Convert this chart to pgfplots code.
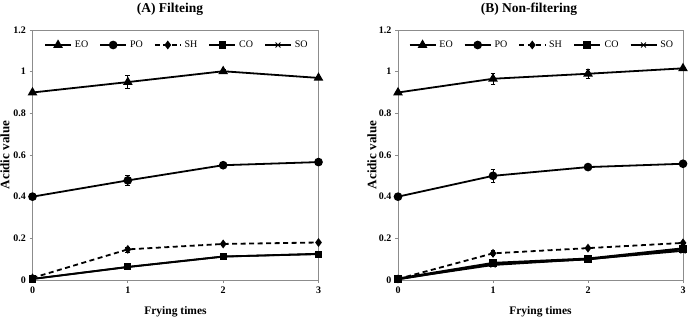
\documentclass[border=0pt]{standalone}
\usepackage{fontspec}
\setmainfont{Liberation Serif}
\usepackage{pgfplots}
\pgfplotsset{compat=1.18}

\definecolor{frame}{gray}{0.55}

\tikzset{
  ttl/.style={font=\bfseries\fontsize{13.5}{15}\selectfont},
  lbl/.style={font=\bfseries\fontsize{11.5}{13}\selectfont},
  ylbl/.style={font=\bfseries\fontsize{13}{14}\selectfont},
}

\pgfplotsset{
  panel/.style={
    scale only axis, width=286pt, height=250pt,
    xmin=0, xmax=3, ymin=0, ymax=1.2,
    xtick={0,1,2,3}, ytick={0,0.2,0.4,0.6,0.8,1,1.2},
    tick align=outside, tick pos=left, major tick length=3pt,
    axis line style={frame, line width=0.8pt},
    every tick/.style={frame, line width=0.8pt},
    /pgf/number format/assume math mode=true,
    tick label style={font=\bfseries\fontsize{10}{11}\selectfont},
    clip=false,
    legend columns=5,
    legend style={draw=none, fill=none, at={(0.505,0.94)}, anchor=center,
      font=\fontsize{10}{11}\selectfont, column sep=9pt,
      /tikz/every odd column/.style={column sep=1pt}},
    legend image code/.code={
      \draw[mark repeat=2, mark phase=2, ##1]
        plot coordinates {(0pt,0pt) (13pt,0pt) (26pt,0pt)};},
    error bars/y dir=both, error bars/y explicit,
    error bars/error bar style={black, line width=0.7pt, solid},
    error bars/error mark options={rotate=90, mark size=2.4pt, black, line width=0.7pt},
  },
  eo/.style={black, line width=1.8pt, mark=triangle*, mark size=3.8pt, mark options={solid}},
  po/.style={black, line width=1.8pt, mark=*, mark size=3.4pt, mark options={solid}},
  sh/.style={black, line width=1.8pt, dash pattern=on 5pt off 3.5pt, mark=diamond*, mark size=3pt, mark options={solid}},
  co/.style={black, line width=1.8pt, mark=square*, mark size=2.7pt, mark options={solid}},
  so/.style={black, line width=1.8pt, mark=x, mark size=3.5pt, mark options={solid, line width=1pt}},
}

\begin{document}
\begin{tikzpicture}
\useasboundingbox (-32.5pt,-44pt) rectangle (655.5pt,280pt);

% (A) filtered oil
\begin{axis}[panel, at={(0pt,0pt)}, anchor=south west]
  \addplot[eo] coordinates {(0,0.900) +- (0,0) (1,0.950) +- (0,0.030) (2,1.002) +- (0,0.010) (3,0.970) +- (0,0.005)};
  \addlegendentry{EO}
  \addplot[po] coordinates {(0,0.400) +- (0,0) (1,0.478) +- (0,0.025) (2,0.551) +- (0,0.005) (3,0.566) +- (0,0.004)};
  \addlegendentry{PO}
  \addplot[sh] coordinates {(0,0.010) +- (0,0) (1,0.147) +- (0,0.012) (2,0.173) +- (0,0.004) (3,0.180) +- (0,0.004)};
  \addlegendentry{SH}
  \addplot[co] coordinates {(0,0.005) +- (0,0) (1,0.063) +- (0,0) (2,0.113) +- (0,0) (3,0.124) +- (0,0)};
  \addlegendentry{CO}
  \addplot[so] coordinates {(0,0.005) +- (0,0) (1,0.062) +- (0,0) (2,0.112) +- (0,0) (3,0.126) +- (0,0)};
  \addlegendentry{SO}
  \node[ttl] at (rel axis cs:0,1) [xshift=137.5pt, yshift=21pt] {(A) Filteing};
  \node[ylbl] at (rel axis cs:0,0.5) [xshift=-27.5pt, rotate=90] {Acidic value};
  \node[lbl] at (rel axis cs:0.5,0) [yshift=-32pt] {Frying times};
\end{axis}

% (B) non-filtered oil
\begin{axis}[panel, width=285pt, at={(365.5pt,0pt)}, anchor=south west]
  \addplot[eo] coordinates {(0,0.900) +- (0,0) (1,0.966) +- (0,0.025) (2,0.990) +- (0,0.020) (3,1.016) +- (0,0.006)};
  \addlegendentry{EO}
  \addplot[po] coordinates {(0,0.400) +- (0,0) (1,0.500) +- (0,0.032) (2,0.542) +- (0,0.005) (3,0.558) +- (0,0.004)};
  \addlegendentry{PO}
  \addplot[sh] coordinates {(0,0.005) +- (0,0) (1,0.128) +- (0,0.012) (2,0.153) +- (0,0.005) (3,0.178) +- (0,0.004)};
  \addlegendentry{SH}
  \addplot[co, line width=2.8pt] coordinates {(0,0.005) +- (0,0) (1,0.080) +- (0,0) (2,0.101) +- (0,0) (3,0.150) +- (0,0)};
  \addlegendentry{CO}
  \addplot[so] coordinates {(0,0.005) +- (0,0) (1,0.072) +- (0,0) (2,0.100) +- (0,0) (3,0.140) +- (0,0)};
  \addlegendentry{SO}
  \node[ttl] at (rel axis cs:0,1) [xshift=131pt, yshift=21pt] {(B) Non-filtering};
  \node[ylbl] at (rel axis cs:0,0.5) [xshift=-26pt, rotate=90] {Acidic value};
  \node[lbl] at (rel axis cs:0.5,0) [yshift=-32pt] {Frying times};
\end{axis}
\end{tikzpicture}
\end{document}
